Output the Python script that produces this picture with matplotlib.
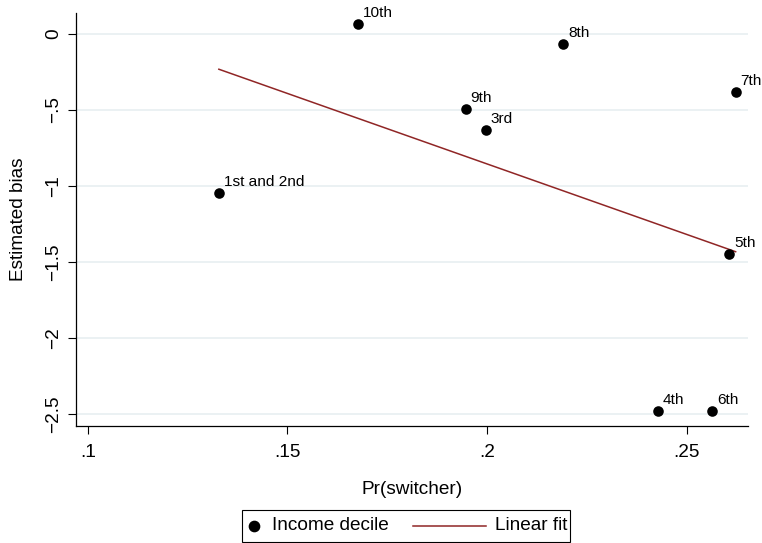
import numpy as np
import matplotlib
matplotlib.use("Agg")
import matplotlib.pyplot as plt
from matplotlib.lines import Line2D
from matplotlib.offsetbox import AnchoredOffsetbox, DrawingArea, HPacker, TextArea

plt.rcParams['font.family'] = ['Liberation Sans', 'DejaVu Sans']

# valeurs
deciles = ["1st and 2nd", "10th", "9th", "3rd", "8th", "7th", "5th", "4th", "6th"]
pr_switcher = [0.1328, 0.1677, 0.1947, 0.1998, 0.2191, 0.2623, 0.2607, 0.2428, 0.2565]
est_bias = [-1.044, 0.066, -0.493, -0.632, -0.064, -0.384, -1.447, -2.480, -2.480]

xticks = [0.1, 0.15, 0.2, 0.25]
xticklabels = [".1", ".15", ".2", ".25"]
yticks = [0, -0.5, -1, -1.5, -2, -2.5]
yticklabels = ["0", "\u2212.5", "\u22121", "\u22121.5", "\u22122", "\u22122.5"]

fit_color = "#902626"
grid_color = "#e7eff1"
fs = 13.7

fig = plt.figure(figsize=(7.62, 5.43), dpi=100)
ax = fig.add_axes([76 / 762, 1 - 425.7 / 543, 672 / 762, 412.7 / 543])

x = np.array(pr_switcher)
y = np.array(est_bias)

ax.scatter(x, y, s=58, color="black", zorder=3, linewidths=0)
for lab, xi, yi in zip(deciles, x, y):
    ax.annotate(lab, (xi, yi), xytext=(3.4, 5.0), textcoords="offset points",
                ha="left", va="baseline", fontsize=11.1)

# droite de regression
slope, intercept = np.polyfit(x, y, 1)
xf = np.array([x.min(), x.max()])
ax.plot(xf, intercept + slope * xf, color=fit_color, lw=1.1, zorder=2)

ax.set_xlim(0.097, 0.2654)
ax.set_ylim(-2.577, 0.138)
ax.set_xticks(xticks)
ax.set_xticklabels(xticklabels)
ax.set_yticks(yticks)
ax.set_yticklabels(yticklabels, rotation=90, va="center")
ax.tick_params(axis="both", labelsize=fs, length=6, width=0.8, color="black")
ax.tick_params(axis="x", pad=7)
ax.tick_params(axis="y", pad=4)
ax.grid(axis="y", color=grid_color, lw=1.2)
ax.set_axisbelow(True)
for side in ["top", "right"]:
    ax.spines[side].set_visible(False)
for side in ["left", "bottom"]:
    ax.spines[side].set_linewidth(0.9)

ax.set_xlabel("Pr(switcher)", fontsize=fs)
ax.xaxis.set_label_coords(0.5, -(490 - 425.7) / 412.7)
ax.xaxis.label.set_va("center")
ax.set_ylabel("Estimated bias", fontsize=fs)
ax.yaxis.set_label_coords(-(76 - 19) / 672, 0.5)
ax.yaxis.label.set_va("center")

# legende (largeurs de poignee differentes)
h = 23
da_m = DrawingArea(21.6, h, 0, 0)
da_m.add_artist(Line2D([8.6], [h / 2], marker="o", ms=7.4, color="black", ls="none"))
da_l = DrawingArea(77, h, 0, 0)
da_l.add_artist(Line2D([18, 70.6], [h / 2, h / 2], color=fit_color, lw=1.1))
da_end = DrawingArea(2, h, 0, 0)
tp = dict(fontsize=fs)
row = HPacker(children=[da_m, TextArea("Income decile", textprops=tp), da_l,
                        TextArea("Linear fit", textprops=tp), da_end],
              align="center", pad=0, sep=0)
leg = AnchoredOffsetbox(loc="lower center", child=row, pad=0, borderpad=0, frameon=True,
                        bbox_to_anchor=(406 / 762, 1.5 / 543), bbox_transform=fig.transFigure)
leg.patch.set_edgecolor("black")
leg.patch.set_linewidth(0.8)
fig.add_artist(leg)

fig.savefig("out.png", dpi=100)
